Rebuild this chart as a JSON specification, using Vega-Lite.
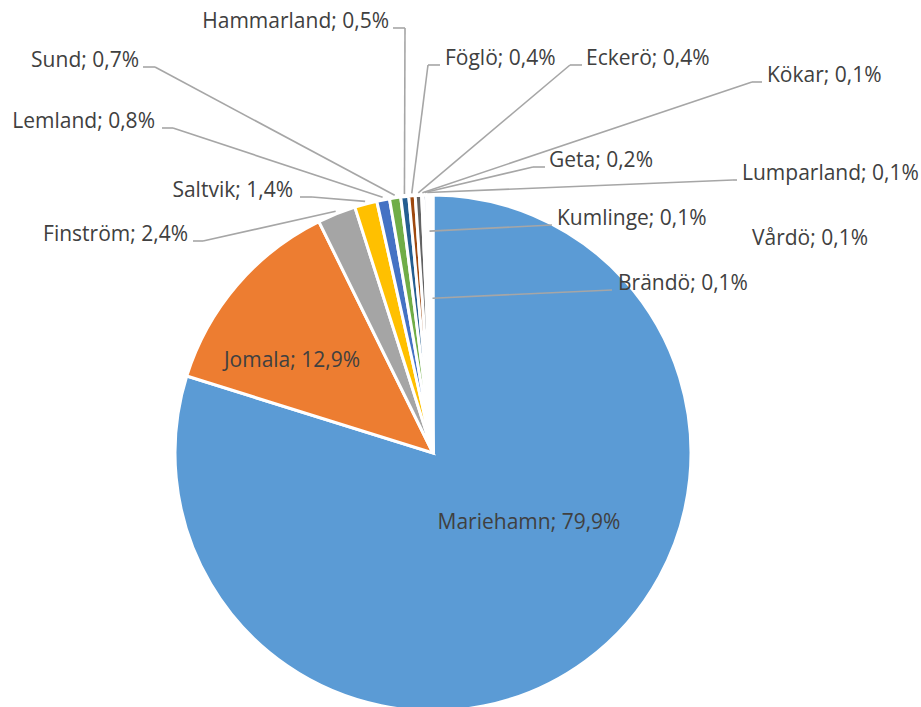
{
  "$schema": "https://vega.github.io/schema/vega-lite/v6.json",
  "width": 921,
  "height": 707,
  "autosize": {"type": "none"},
  "padding": 0,
  "background": "white",
  "config": {"view": {"stroke": null}, "text": {"font": "Open Sans", "fontSize": 21, "fill": "#404040"}},
  "data": {
    "values": [
      {"name": "Mariehamn", "value": 79.9},
      {"name": "Jomala", "value": 12.9},
      {"name": "Finström", "value": 2.4},
      {"name": "Saltvik", "value": 1.4},
      {"name": "Lemland", "value": 0.8},
      {"name": "Sund", "value": 0.7},
      {"name": "Hammarland", "value": 0.5},
      {"name": "Föglö", "value": 0.4},
      {"name": "Eckerö", "value": 0.4},
      {"name": "Kökar", "value": 0.1},
      {"name": "Geta", "value": 0.2},
      {"name": "Lumparland", "value": 0.1},
      {"name": "Kumlinge", "value": 0.1},
      {"name": "Vårdö", "value": 0.1},
      {"name": "Brändö", "value": 0.1}
    ]
  },
  "transform": [
    {"window": [{"op": "row_number", "as": "idx"}]},
    {"joinaggregate": [{"op": "sum", "field": "value", "as": "total"}]},
    {"window": [{"op": "sum", "field": "value", "as": "cum"}], "sort": [{"field": "idx"}], "frame": [null, 0]},
    {"calculate": "2*PI*(datum.cum - datum.value/2)/datum.total", "as": "mid"},
    {"calculate": "datum.name + '; ' + replace(format(datum.value, '.1f'), '.', ',') + '%'", "as": "label"},
    {"calculate": "({'Mariehamn':[0.3721,-0.2946,0,0,0,'C'],'Jomala':[-0.5465,0.3333,0,0,0,'C'],'Finström':[-0.9496,0.8217,-0.9302,-0.8915,1.01,'L'],'Saltvik':[-0.5426,0.9922,-0.5155,-0.469,1.01,'L'],'Lemland':[-1.0775,1.2597,-1.0504,-1.0078,1.01,'L'],'Sund':[-1.1395,1.4961,-1.124,-1.0775,1.01,'L'],'Hammarland':[-0.1705,1.6473,-0.155,-0.1085,1.01,'L'],'Föglö':[0.0465,1.5039,0.0271,-0.0194,1.01,'R'],'Eckerö':[0.593,1.5039,0.5775,0.531,1.01,'R'],'Kökar':[1.2946,1.438,1.2752,1.2364,1.01,'R'],'Geta':[0.4496,1.1085,0.4341,0.3876,1.01,'R'],'Lumparland':[1.1977,1.0581,1.1783,1.1628,1.01,'R'],'Kumlinge':[0.4806,0.8837,0.4612,0.4612,0.86,'R'],'Vårdö':[1.2364,0.8062,0,0,0,'N'],'Brändö':[0.7171,0.6318,0.6938,0.6938,0.6,'R']})[datum.name]", "as": "L"},
    {"calculate": "datum.L[0]", "as": "lx"},
    {"calculate": "datum.L[1]", "as": "ly"},
    {"calculate": "datum.L[2]", "as": "e1"},
    {"calculate": "datum.L[3]", "as": "e2"},
    {"calculate": "datum.L[4]*sin(datum.mid)", "as": "tx"},
    {"calculate": "datum.L[4]*cos(datum.mid)", "as": "ty"},
    {"calculate": "datum.L[5]", "as": "side"}
  ],
  "layer": [
    {
      "mark": {"type": "arc", "outerRadius": 258, "stroke": "white", "strokeWidth": 3},
      "encoding": {
        "theta": {"field": "value", "type": "quantitative", "stack": true},
        "order": {"field": "idx", "type": "quantitative"},
        "color": {
          "field": "name", "type": "nominal", "legend": null,
          "scale": {
            "domain": ["Mariehamn", "Jomala", "Finström", "Saltvik", "Lemland", "Sund", "Hammarland", "Föglö", "Eckerö", "Kökar", "Geta", "Lumparland", "Kumlinge", "Vårdö", "Brändö"],
            "range": ["#5B9BD5", "#ED7D31", "#A5A5A5", "#FFC000", "#4472C4", "#70AD47", "#255E91", "#9E480E", "#636363", "#997300", "#264478", "#43682B", "#7CAFDD", "#F1975A", "#B7B7B7"]
          }
        },
        "x": {"datum": 0, "type": "quantitative", "scale": {"domain": [-1.6783, 1.8915], "nice": false, "zero": false}, "axis": null},
        "y": {"datum": 0, "type": "quantitative", "scale": {"domain": [-0.9845, 1.7558], "nice": false, "zero": false}, "axis": null}
      }
    },
    {
      "transform": [{"filter": "datum.side == 'L' || datum.side == 'R'"}],
      "mark": {"type": "rule", "color": "#A6A6A6", "strokeWidth": 1.6},
      "encoding": {
        "x": {"field": "e1", "type": "quantitative", "scale": {"domain": [-1.6783, 1.8915], "nice": false, "zero": false}, "axis": null},
        "y": {"field": "ly", "type": "quantitative", "scale": {"domain": [-0.9845, 1.7558], "nice": false, "zero": false}, "axis": null},
        "x2": {"field": "e2"},
        "y2": {"field": "ly"}
      }
    },
    {
      "transform": [{"filter": "datum.side == 'L' || datum.side == 'R'"}],
      "mark": {"type": "rule", "color": "#A6A6A6", "strokeWidth": 1.6},
      "encoding": {
        "x": {"field": "e2", "type": "quantitative", "scale": {"domain": [-1.6783, 1.8915], "nice": false, "zero": false}, "axis": null},
        "y": {"field": "ly", "type": "quantitative", "scale": {"domain": [-0.9845, 1.7558], "nice": false, "zero": false}, "axis": null},
        "x2": {"field": "tx"},
        "y2": {"field": "ty"}
      }
    },
    {
      "transform": [{"filter": "datum.side == 'L'"}],
      "mark": {"type": "text", "align": "right", "baseline": "alphabetic"},
      "encoding": {
        "x": {"field": "lx", "type": "quantitative", "scale": {"domain": [-1.6783, 1.8915], "nice": false, "zero": false}, "axis": null},
        "y": {"field": "ly", "type": "quantitative", "scale": {"domain": [-0.9845, 1.7558], "nice": false, "zero": false}, "axis": null},
        "text": {"field": "label"}
      }
    },
    {
      "transform": [{"filter": "datum.side == 'R' || datum.side == 'N'"}],
      "mark": {"type": "text", "align": "left", "baseline": "alphabetic"},
      "encoding": {
        "x": {"field": "lx", "type": "quantitative", "scale": {"domain": [-1.6783, 1.8915], "nice": false, "zero": false}, "axis": null},
        "y": {"field": "ly", "type": "quantitative", "scale": {"domain": [-0.9845, 1.7558], "nice": false, "zero": false}, "axis": null},
        "text": {"field": "label"}
      }
    },
    {
      "transform": [{"filter": "datum.side == 'C'"}],
      "mark": {"type": "text", "align": "center", "baseline": "alphabetic"},
      "encoding": {
        "x": {"field": "lx", "type": "quantitative", "scale": {"domain": [-1.6783, 1.8915], "nice": false, "zero": false}, "axis": null},
        "y": {"field": "ly", "type": "quantitative", "scale": {"domain": [-0.9845, 1.7558], "nice": false, "zero": false}, "axis": null},
        "text": {"field": "label"}
      }
    }
  ]
}
